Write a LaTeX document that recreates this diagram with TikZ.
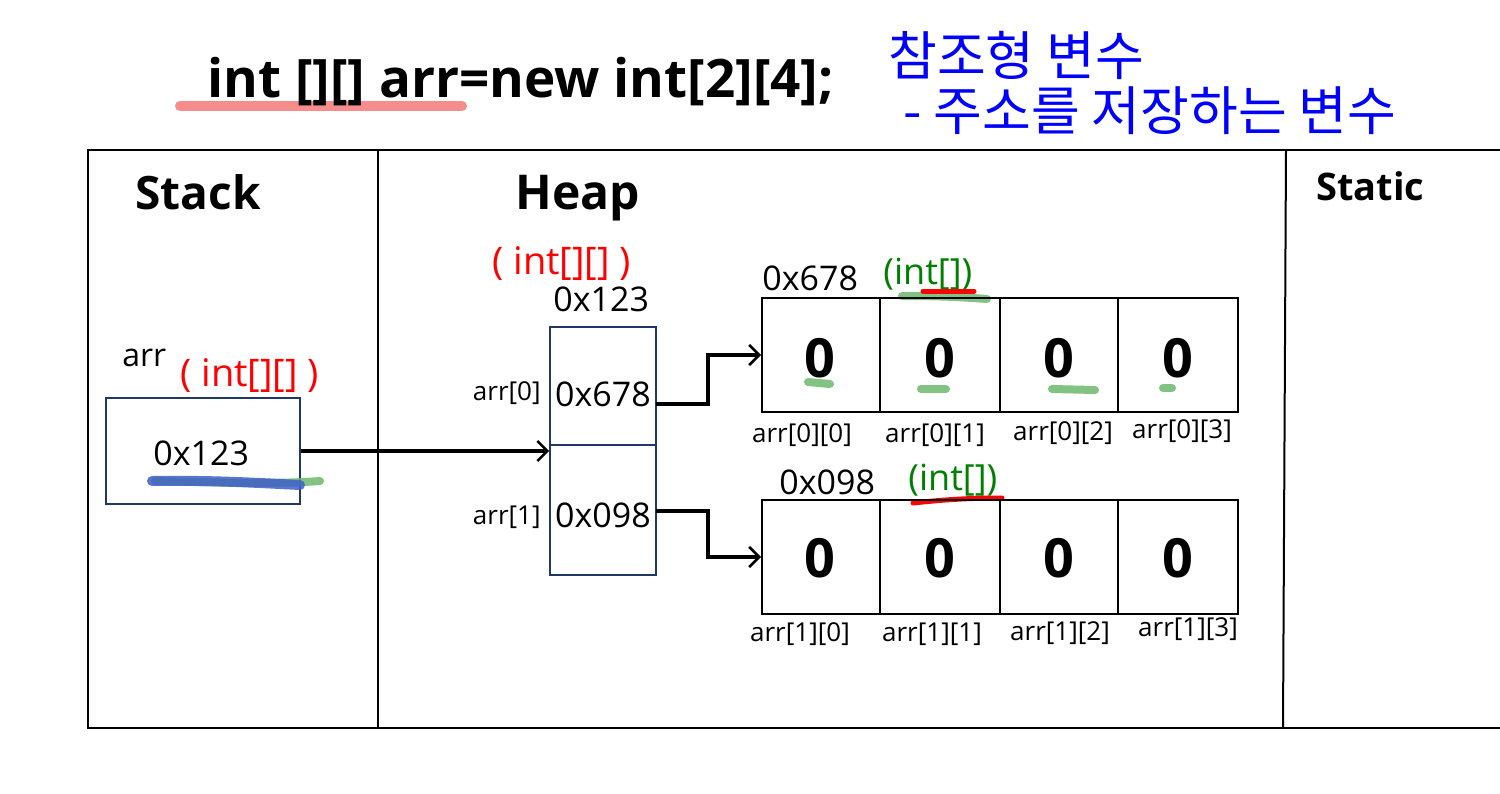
\documentclass[tikz,border=0pt]{standalone}
\usepackage{fontspec}
\setmainfont{Open Sans}
\newfontfamily\krfont{Noto Sans CJK KR}
\usetikzlibrary{arrows.meta,fit}
\definecolor{navy}{HTML}{1F3864}
\definecolor{hlred}{HTML}{F47A7A}
\definecolor{hlgreen}{HTML}{6DB86D}
\definecolor{hlblue}{HTML}{3F5FC8}
\definecolor{tgreen}{HTML}{008000}
\definecolor{kblue}{HTML}{0000FF}
\newcommand{\fsz}[1]{\fontsize{#1}{#1}\selectfont}
\tikzset{
  frame/.style={draw=black, line width=1pt},
  navybox/.style={draw=navy, line width=0.8pt, inner sep=0pt},
  cellbox/.style={draw=black, line width=1pt, inner sep=0pt},
  ptr/.style={draw=black, line width=1.6pt, -{Straight Barb[length=5pt,width=10pt,line width=1.3pt]}},
  hl/.style={line width=4pt, line cap=round, opacity=0.85},
  title/.style={font=\fsz{26.5}\bfseries, inner sep=0pt},
  kor/.style={font=\krfont\fsz{26.5}, text=kblue, inner sep=0pt},
  area/.style={font=\fsz{24}\bfseries, inner sep=0pt},
  redtype/.style={font=\fsz{19}, text=red, inner sep=0pt},
  grntype/.style={font=\fsz{18}, text=tgreen, inner sep=0pt},
  addr/.style={font=\fsz{17}, inner sep=0pt},
  small/.style={font=\fsz{13}, inner sep=0pt},
  zero/.style={font=\fsz{27}\bfseries, inner sep=0pt}
}
\begin{document}
\begin{tikzpicture}[x=0.5pt,y=-0.5pt]
\useasboundingbox[fill=white] (0,0) rectangle (1500,793);

% title highlight
\draw[hl, draw=hlred, line width=5pt] (180,106) -- (462,106);
\node[title, anchor=base west] (title) at (207,97) {int [][] arr=new int[2][4];};
\node[kor, anchor=base west] (kor1) at (888,75) {참조형 변수};
\node[kor, anchor=base west] (kor2) at (903,130) {- 주소를 저장하는 변수};

% frame
\draw[frame] (1500,150) -- (88,150) -- (88,728) -- (1500,728);
\draw[frame] (378,150) -- (378,728);
\draw[frame] (1286,150) -- (1283,728);

\node[area, font=\fsz{23}\bfseries, anchor=base west] (stack) at (135,209) {Stack};
\node[area, anchor=base west] (heap) at (515,209) {Heap};
\node[area, font=\fsz{19}\bfseries, anchor=base west] (static) at (1316,200) {Static};

% stack variable
\node[small, font=\fsz{16}, anchor=base west] (arrlbl) at (122,366) {arr};
\node[redtype, anchor=base west] (stype) at (180,386) {( int[][] )};
\node[navybox, fit={(106,398) (300,504)}] (stk) {};
\draw[hl, draw=hlgreen] (155,481) .. controls (230,483) and (280,484) .. (320,481);
\draw[hl, draw=hlblue, line width=5pt] (152,481) .. controls (210,480) and (260,483) .. (300,485);
\node[addr, anchor=base west] (stkval) at (153,465) {0x123};

% heap outer array
\node[redtype, anchor=base west] (htype) at (492,274) {( int[][] )};
\node[addr, anchor=base west] (haddr) at (553,311) {0x123};
\node[navybox, fit={(550,327) (656,445)}] (m0) {};
\node[navybox, fit={(550,445) (656,575)}] (m1) {};
\node[addr, anchor=base] (m0v) at (603,406) {0x678};
\node[addr, anchor=base] (m1v) at (603,527) {0x098};
\node[small, anchor=base east] (m0l) at (541,400) {arr[0]};
\node[small, anchor=base east] (m1l) at (541,524) {arr[1]};

\draw[ptr] (stk.east) -- (stk.east -| m0.west);

% row 0
\node[addr, anchor=base west] (r0addr) at (762,290) {0x678};
\node[grntype, anchor=base west] (r0type) at (883,284) {(int[])};
\draw[hl, draw=hlgreen] (902,296) .. controls (940,296) and (960,297) .. (987,299);
\draw[hl, draw=red, opacity=1, line width=2.5pt] (923,291) -- (974,291);
\node[cellbox, fit={(762,298) (880,412)}] (c00) {};
\node[cellbox, fit={(880,298) (1000,412)}] (c01) {};
\node[cellbox, fit={(1000,298) (1118,412)}] (c02) {};
\node[cellbox, fit={(1118,298) (1238,412)}] (c03) {};
\draw[hl, draw=hlgreen] (808,382) -- (830,384);
\draw[hl, draw=hlgreen] (921,389) -- (946,389);
\draw[hl, draw=hlgreen] (1052,389) -- (1095,390);
\draw[hl, draw=hlgreen] (1163,388) -- (1172,388);
\node[zero] (z00) at (820,358) {0};
\node[zero] (z01) at (940,358) {0};
\node[zero] (z02) at (1059,358) {0};
\node[zero] (z03) at (1178,358) {0};
\node[small, anchor=base] (l00) at (802,442) {arr[0][0]};
\node[small, anchor=base] (l01) at (935,442) {arr[0][1]};
\node[small, anchor=base] (l02) at (1063,440) {arr[0][2]};
\node[small, anchor=base] (l03) at (1182,438) {arr[0][3]};

% row 1
\node[addr, anchor=base west] (r1addr) at (779,494) {0x098};
\node[grntype, anchor=base west] (r1type) at (908,490) {(int[])};
\draw[hl, draw=red, opacity=1, line width=2.5pt] (913,503) .. controls (950,499) and (975,498) .. (1002,498);
\node[cellbox, fit={(762,500) (880,614)}] (c10) {};
\node[cellbox, fit={(880,500) (1000,614)}] (c11) {};
\node[cellbox, fit={(1000,500) (1118,614)}] (c12) {};
\node[cellbox, fit={(1118,500) (1238,614)}] (c13) {};
\node[zero] (z10) at (820,558) {0};
\node[zero] (z11) at (940,558) {0};
\node[zero] (z12) at (1059,558) {0};
\node[zero] (z13) at (1178,558) {0};
\node[small, anchor=base] (l10) at (800,641) {arr[1][0]};
\node[small, anchor=base] (l11) at (932,641) {arr[1][1]};
\node[small, anchor=base] (l12) at (1060,640) {arr[1][2]};
\node[small, anchor=base] (l13) at (1188,636) {arr[1][3]};

% pointers to rows
\coordinate (p0) at (656,404);
\coordinate (p1) at (656,511);
\draw[ptr] (p0) -- (708,404) |- (c00.west);
\draw[ptr] (p1) -- (708,511) |- (c10.west);
\end{tikzpicture}
\end{document}
